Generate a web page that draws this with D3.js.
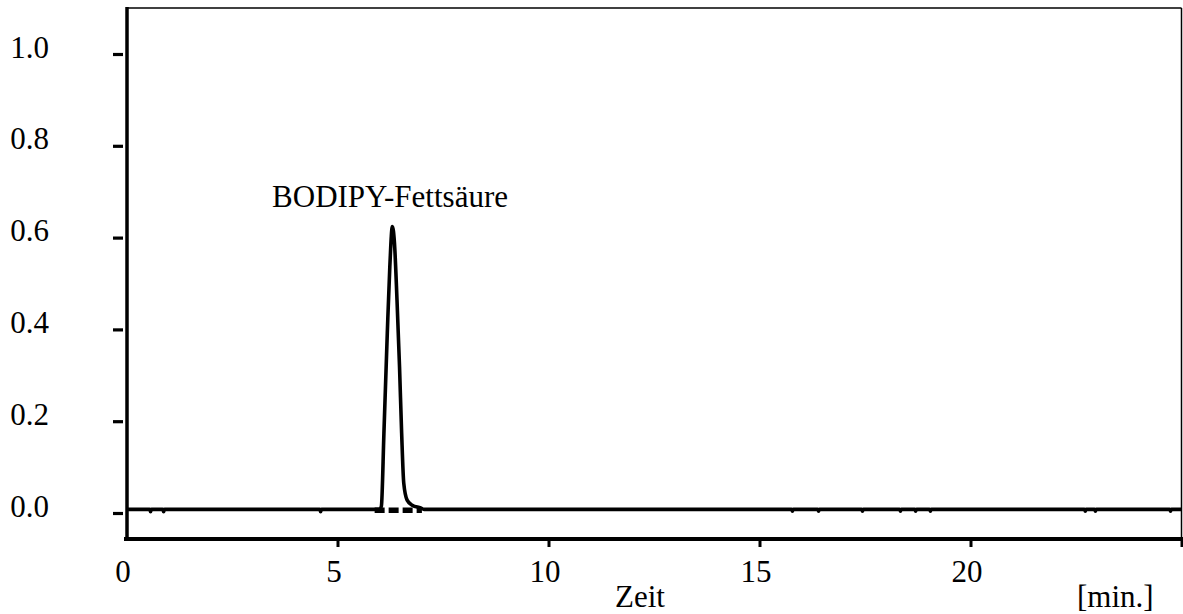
<!DOCTYPE html>
<html>
<head>
<meta charset="utf-8">
<script src="https://cdn.jsdelivr.net/npm/d3@7"></script>
<style>
  html, body { margin: 0; padding: 0; background: #fff; }
  svg { display: block; }
  text { font-family: "Liberation Serif", "Times New Roman", serif; fill: #000; }
</style>
</head>
<body>
<svg id="chart" width="1183" height="614"></svg>
<script>
// Chromatogram trace: retention time [min] and detector signal
const traceTime = [
  0, 0.55, 0.57, 0.59, 0.86, 0.88, 0.90, 4.58, 4.60, 4.62,
  5.88, 6.00, 6.04, 6.10, 6.18, 6.24, 6.30, 6.35, 6.41, 6.47,
  6.52, 6.57, 6.65, 6.77, 6.97, 7.05,
  15.76, 15.78, 15.80, 16.38, 16.40, 16.42, 17.42, 17.44, 17.46,
  18.32, 18.34, 18.36, 18.68, 18.70, 18.72, 19.03, 19.05, 19.07,
  22.70, 22.72, 22.74, 22.94, 22.96, 22.98, 24.72, 24.74, 24.76, 25
];
const traceSignal = [
  0.008, 0.008, 0.003, 0.008, 0.008, 0.003, 0.008, 0.008, 0.003, 0.008,
  0.008, 0.008, 0.015, 0.174, 0.392, 0.537, 0.624, 0.588, 0.464, 0.318,
  0.174, 0.065, 0.028, 0.017, 0.011, 0.008,
  0.008, 0.004, 0.008, 0.008, 0.004, 0.008, 0.008, 0.004, 0.008,
  0.008, 0.004, 0.008, 0.008, 0.004, 0.008, 0.008, 0.004, 0.008,
  0.008, 0.004, 0.008, 0.008, 0.004, 0.008, 0.008, 0.004, 0.008, 0.008
];

// Integration window of the peak (drawn as a dashed baseline)
const integrationStart = 5.88;
const integrationEnd = 7.0;
const integrationLevel = 0.006;

const peakLabel = "BODIPY-Fettsäure";
const peakLabelTime = 3.45;
const peakLabelValue = 0.667;

const xTicks = [0, 5, 10, 15, 20, 25];
const xTickLabels = ["0", "5", "10", "15", "20", ""];
const yTicks = [0.0, 0.2, 0.4, 0.6, 0.8, 1.0];
const xTitle = "Zeit";
const xUnit = "[min.]";

const svg = d3.select("#chart");

const x = d3.scaleLinear().domain([0, 25]).range([126.5, 1181.5]);
const y = d3.scaleLinear().domain([0, 1]).range([513, 54]);

const plotTop = 8, plotBottom = 539, plotLeft = 127, plotRight = 1181.5;

// Frame: thin top and right edges
svg.append("line")
  .attr("x1", plotLeft).attr("x2", plotRight)
  .attr("y1", plotTop).attr("y2", plotTop)
  .attr("stroke", "#000").attr("stroke-width", 1.5);
svg.append("line")
  .attr("x1", plotRight).attr("x2", plotRight)
  .attr("y1", plotTop).attr("y2", plotBottom)
  .attr("stroke", "#000").attr("stroke-width", 1.5);

// Y axis: detached ticks and labels
const yAxis = d3.axisLeft(y)
  .tickValues(yTicks)
  .tickSize(10)
  .tickPadding(64)
  .tickFormat(d3.format(".1f"));
const gy = svg.append("g").attr("transform", "translate(123,0)").call(yAxis);
gy.select(".domain").remove();
gy.selectAll(".tick line").attr("stroke", "#000").attr("stroke-width", 3.2);
gy.selectAll(".tick text")
  .attr("font-size", 31)
  .attr("font-family", "Liberation Serif, Times New Roman, serif")
  .attr("dy", 3);

// X axis
const xAxis = d3.axisBottom(x)
  .tickValues(xTicks)
  .tickSize(8)
  .tickFormat((d, i) => xTickLabels[i]);
const gx = svg.append("g").attr("transform", `translate(0,${plotBottom})`).call(xAxis);
gx.select(".domain").remove();
gx.selectAll(".tick line").attr("stroke", "#000").attr("stroke-width", 3);
gx.selectAll(".tick").filter(d => d === 0).select("line").remove();
gx.selectAll(".tick text")
  .attr("font-size", 31)
  .attr("font-family", "Liberation Serif, Times New Roman, serif")
  .attr("y", 43).attr("dy", 0).attr("dx", -4);

// Axis lines
svg.append("line")
  .attr("x1", plotLeft).attr("x2", plotLeft)
  .attr("y1", plotTop - 1).attr("y2", plotBottom + 2)
  .attr("stroke", "#000").attr("stroke-width", 3.5);
svg.append("line")
  .attr("x1", 124).attr("x2", 1183)
  .attr("y1", plotBottom).attr("y2", plotBottom)
  .attr("stroke", "#000").attr("stroke-width", 4);

// Dashed integration baseline under the peak
svg.append("line")
  .attr("x1", x(integrationStart)).attr("x2", x(integrationEnd))
  .attr("y1", y(integrationLevel)).attr("y2", y(integrationLevel))
  .attr("stroke", "#000").attr("stroke-width", 5.5)
  .attr("stroke-dasharray", "10,4");

// Signal trace
const trace = traceTime.map((t, i) => [t, traceSignal[i]]);
const line = d3.line().x(d => x(d[0])).y(d => y(d[1])).curve(d3.curveMonotoneX);
svg.append("path")
  .datum(trace)
  .attr("d", line)
  .attr("fill", "none")
  .attr("stroke", "#000")
  .attr("stroke-width", 3.6)
  .attr("stroke-linejoin", "round");

// Peak annotation
svg.append("text")
  .attr("x", x(peakLabelTime)).attr("y", y(peakLabelValue))
  .attr("font-size", 31)
  .text(peakLabel);

// Axis titles
svg.append("text")
  .attr("x", 615).attr("y", 607)
  .attr("font-size", 31)
  .text(xTitle);
svg.append("text")
  .attr("x", 1077).attr("y", 607)
  .attr("font-size", 31)
  .text(xUnit);
</script>
</body>
</html>
